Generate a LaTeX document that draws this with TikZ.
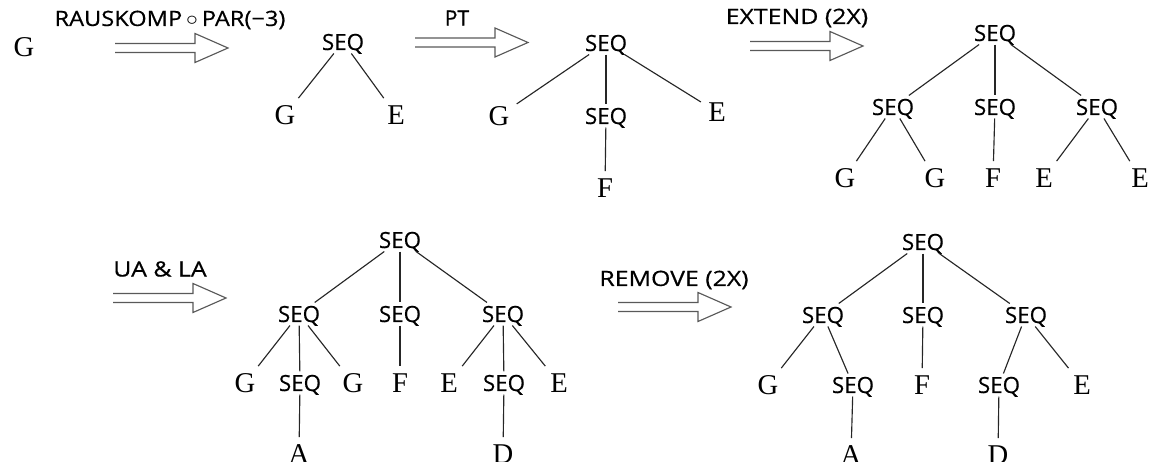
\documentclass[tikz,border=0pt]{standalone}
\usepackage{fontspec}
\setmainfont{Liberation Serif}
\newfontfamily\labfont[FakeBold=0.5]{Open Sans}
\newcommand\bigarr[2]{%
  \draw[bigarrow] (#1,#2-4.5) -- ++(80,0) -- ++(0,-10) -- ++(33,14.5) -- ++(-33,14.5) -- ++(0,-10) -- ++(-80,0);}
\begin{document}
\begin{tikzpicture}[x=0.02cm,y=-0.02cm,
  seq/.style={font=\labfont\fontsize{12.7pt}{14pt}\selectfont, text height=9.1pt, text depth=0pt, inner sep=1.8pt, text=black},
  lt/.style={font=\fontsize{16.3pt}{18pt}\selectfont, text height=10.8pt, text depth=0pt, inner sep=4pt, text=black},
  edge/.style={draw=black!85, line width=0.65pt},
  lab/.style={font=\labfont\fontsize{12pt}{14pt}\selectfont, inner sep=0pt, text=black},
  bigarrow/.style={draw=black!65, line width=0.65pt}]
\useasboundingbox (0,0) rectangle (1150,462);

% start
\node[lt] (g0) at (24,47) {G};

% arrows and labels
\bigarr{115}{48}
\node[lab] (l1) at (170,20) {\scalebox{1.12}[1]{RAUSKOMP\,$\circ$\,PAR(−3)}};
\bigarr{415}{42.5}
\node[lab] (l2) at (457,18) {PT};
\bigarr{750}{46}
\node[lab] (l3) at (797,18) {\scalebox{1.18}[1]{EXTEND (2X)}};
\bigarr{113}{298}
\node[lab] (l4) at (160,269) {\scalebox{1.18}[1]{UA \& LA}};
\bigarr{618}{307}
\node[lab] (l5) at (674,280) {\scalebox{1.18}[1]{REMOVE (2X)}};

% tree 1
\node[seq] (a0) at (343,42) {SEQ};
\node[lt] (a1) at (285,115) {G};
\node[lt] (a2) at (396,115) {E};
\draw[edge] (a0) -- (a1);
\draw[edge] (a0) -- (a2);

% tree 2
\node[seq] (b0) at (606,43) {SEQ};
\node[lt] (b1) at (499,116) {G};
\node[seq] (b2) at (606,116) {SEQ};
\node[lt] (b3) at (717,112) {E};
\node[lt] (b4) at (605,188) {F};
\draw[edge] (b0) -- (b1);
\draw[edge] (b0) -- (b2);
\draw[edge] (b0) -- (b3);
\draw[edge] (b2) -- (b4);

% tree 3
\node[seq] (c0) at (995,33) {SEQ};
\node[seq] (c1) at (893,107) {SEQ};
\node[seq] (c2) at (995,107) {SEQ};
\node[seq] (c3) at (1097,107) {SEQ};
\node[lt] (c4) at (845,178) {G};
\node[lt] (c5) at (935,178) {G};
\node[lt] (c6) at (993,178) {F};
\node[lt] (c7) at (1044,178) {E};
\node[lt] (c8) at (1140,178) {E};
\draw[edge] (c0) -- (c1);
\draw[edge] (c0) -- (c2);
\draw[edge] (c0) -- (c3);
\draw[edge] (c1) -- (c4);
\draw[edge] (c1) -- (c5);
\draw[edge] (c2) -- (c6);
\draw[edge] (c3) -- (c7);
\draw[edge] (c3) -- (c8);

% tree 4
\node[seq] (d0) at (400,240) {SEQ};
\node[seq] (d1) at (299,314) {SEQ};
\node[seq] (d2) at (400,314) {SEQ};
\node[seq] (d3) at (503,314) {SEQ};
\node[lt] (d4) at (245,383) {G};
\node[seq] (d5) at (300,383) {SEQ};
\node[lt] (d6) at (353,383) {G};
\node[lt] (d7) at (400,383) {F};
\node[lt] (d8) at (449,383) {E};
\node[seq] (d9) at (504,383) {SEQ};
\node[lt] (d10) at (559,383) {E};
\node[lt] (d11) at (299,454) {A};
\node[lt] (d12) at (503,454) {D};
\draw[edge] (d0) -- (d1);
\draw[edge] (d0) -- (d2);
\draw[edge] (d0) -- (d3);
\draw[edge] (d1) -- (d4);
\draw[edge] (d1) -- (d5);
\draw[edge] (d1) -- (d6);
\draw[edge] (d2) -- (d7);
\draw[edge] (d3) -- (d8);
\draw[edge] (d3) -- (d9);
\draw[edge] (d3) -- (d10);
\draw[edge] (d5) -- (d11);
\draw[edge] (d9) -- (d12);

% tree 5
\node[seq] (e0) at (923,242) {SEQ};
\node[seq] (e1) at (823,315) {SEQ};
\node[seq] (e2) at (923,315) {SEQ};
\node[seq] (e3) at (1026,315) {SEQ};
\node[lt] (e4) at (768,385) {G};
\node[seq] (e5) at (853,385) {SEQ};
\node[lt] (e6) at (922,385) {F};
\node[seq] (e7) at (999,385) {SEQ};
\node[lt] (e8) at (1082,385) {E};
\node[lt] (e9) at (851,455) {A};
\node[lt] (e10) at (998,455) {D};
\draw[edge] (e0) -- (e1);
\draw[edge] (e0) -- (e2);
\draw[edge] (e0) -- (e3);
\draw[edge] (e1) -- (e4);
\draw[edge] (e1) -- (e5);
\draw[edge] (e2) -- (e6);
\draw[edge] (e3) -- (e7);
\draw[edge] (e3) -- (e8);
\draw[edge] (e5) -- (e9);
\draw[edge] (e7) -- (e10);
\end{tikzpicture}
\end{document}
